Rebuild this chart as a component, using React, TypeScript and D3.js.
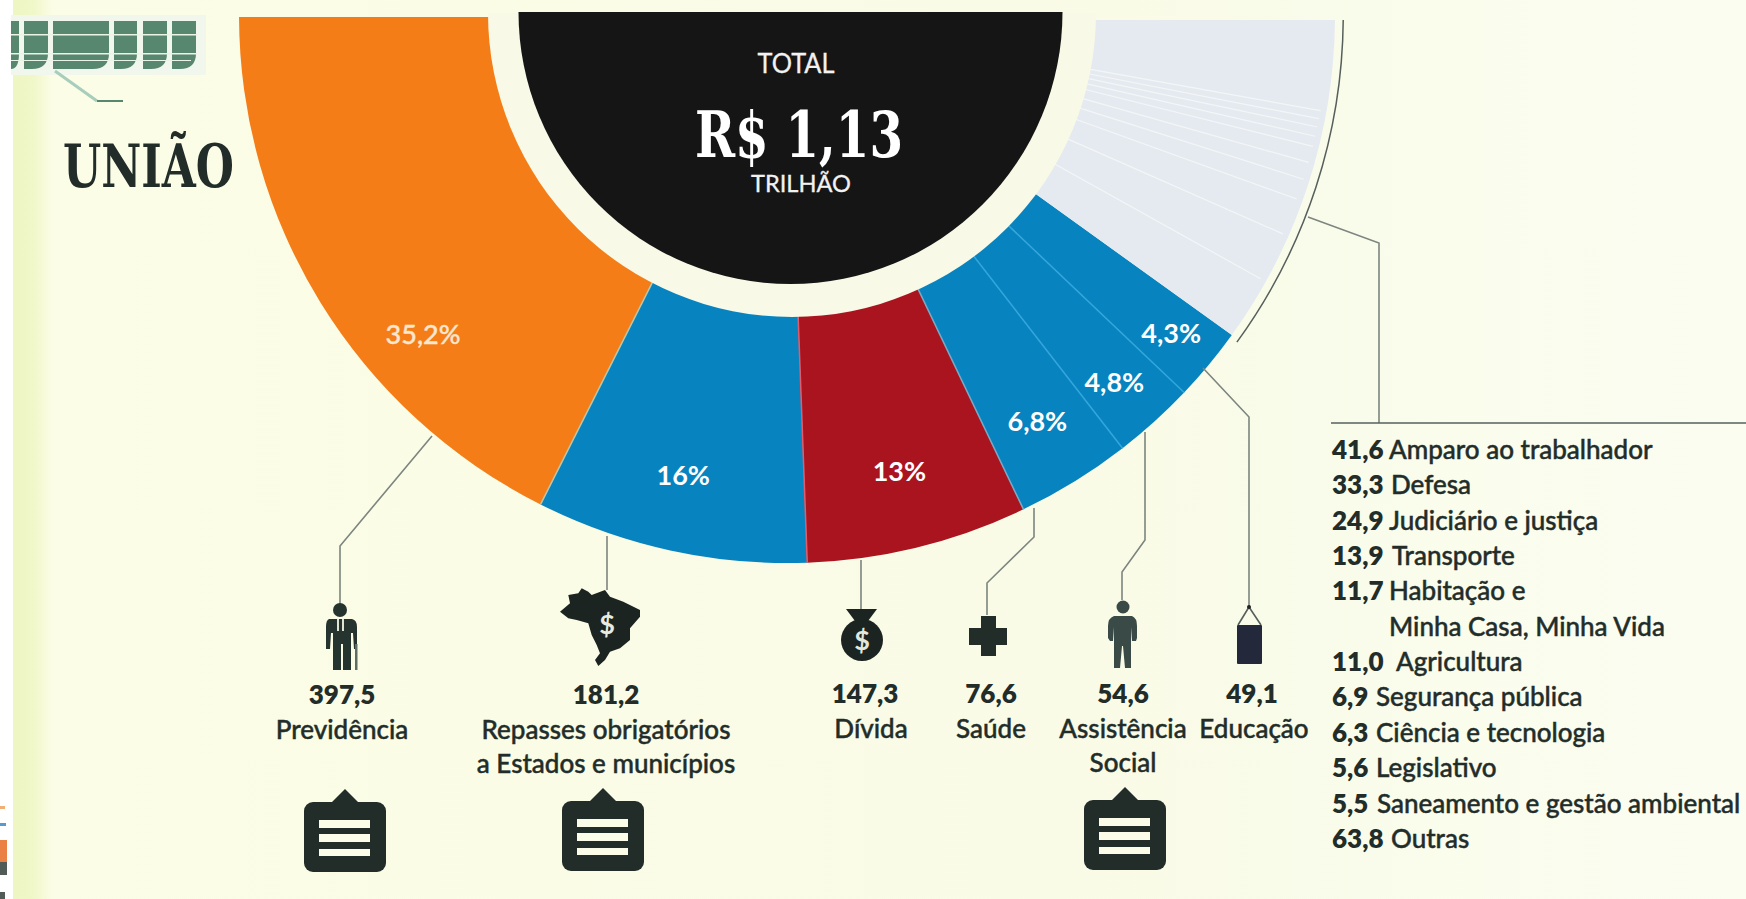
import React from 'react';
import * as d3 from 'd3';

// R$ bilhões
const categories = ['Previdência', 'Repasses', 'Dívida', 'Saúde', 'Assistência Social', 'Educação', 'Demais'];
const values = [397.5, 181.2, 147.3, 76.6, 54.6, 49.1, 224.5];
const percents = ['35,2%', '16%', '13%', '6,8%', '4,8%', '4,3%', ''];
const sliceColors = ['#f57d17', '#0784bf', '#a9141f', '#0784bf', '#0784bf', '#0784bf', '#e5eaf1'];

const valueLabels = ['397,5', '181,2', '147,3', '76,6', '54,6', '49,1'];
const nameLabels = [
  ['Previdência'],
  ['Repasses obrigatórios', 'a Estados e municípios'],
  ['Dívida'],
  ['Saúde'],
  ['Assistência', 'Social'],
  ['Educação'],
];

const otherValues = [41.6, 33.3, 24.9, 13.9, 11.7, 11.0, 6.9, 6.3, 5.6, 5.5, 63.8];
const otherValueLabels = ['41,6', '33,3', '24,9', '13,9', '11,7', '11,0', '6,9', '6,3', '5,6', '5,5', '63,8'];
const otherNames = [
  ['Amparo ao trabalhador'],
  ['Defesa'],
  ['Judiciário e justiça'],
  ['Transporte'],
  ['Habitação e', 'Minha Casa, Minha Vida'],
  ['Agricultura'],
  ['Segurança pública'],
  ['Ciência e tecnologia'],
  ['Legislativo'],
  ['Saneamento e gestão ambiental'],
  ['Outras'],
];

// layout
const W = 1746;
const H = 899;
const cx = 787;
const cy = 15;
const outerR = 548;
const labelRadius = [484, 472, 470, 477, 492, 499];
const labelShift = [9.6, -0.4, 0, 0, -0.4, 0]; // graus
const valueCenterX = [342, 606, 865, 991, 1123, 1252];
const nameCenterX = [342, 606, 871, 991, 1123, 1254];
const valueBaseline = [704, 704, 703, 703, 703, 703];
const otherValueX = 1332;
const otherNameX = [1389, 1391, 1389, 1392, 1389, 1396, 1376, 1376, 1376, 1377, 1391];
const font = 'Lato, "Noto Sans", sans-serif';
const slab = '"DejaVu Serif Condensed", "DejaVu Serif", serif';
const ink = '#222d2a';

const leaders = [
  [[432, 436], [340, 546], [340, 604]],
  [[607, 536], [607, 590]],
  [[861, 560], [861, 610]],
  [[1034, 508], [1034, 537], [987, 583], [987, 615]],
  [[1145, 432], [1145, 540], [1122, 572], [1122, 600]],
  [[1203, 368], [1249, 417], [1249, 607]],
  [[1308, 217], [1379, 243], [1379, 423]],
];
const noteIcons = [[345, 789], [603, 788], [1125, 787]];

const pieGen = d3
  .pie<number>()
  .sort(null)
  .startAngle((3 * Math.PI) / 2)
  .endAngle(Math.PI / 2);

const arcGen = d3.arc<any>().innerRadius(240).outerRadius(outerR);
const slices = pieGen(values);
const otherSlice = slices[slices.length - 1];
const otherPie = d3
  .pie<number>()
  .sort(null)
  .startAngle(otherSlice.startAngle)
  .endAngle(otherSlice.endAngle)(otherValues);

const line = d3.line();
const halfDisc = (r: number) =>
  d3.arc<any>().innerRadius(0).outerRadius(r)({
    startAngle: Math.PI / 2,
    endAngle: (3 * Math.PI) / 2,
  }) as string;

const NoteIcon = ({ x, y }: { x: number; y: number }) => (
  <g transform={`translate(${x},${y})`} fill={ink}>
    <path d="M-13,13L0,0L13,13Z" />
    <rect x={-41} y={13} width={82} height={70} rx={9} />
    <g fill="#fbfde8">
      <rect x={-26} y={31} width={51} height={8} />
      <rect x={-26} y={45} width={51} height={8} />
      <rect x={-26} y={60} width={51} height={7} />
    </g>
  </g>
);

const Icons = () => (
  <g>
    {/* idoso */}
    <g fill="#26342f">
      <circle cx={340} cy={610} r={7} />
      <path d="M329,619h23q5,1 5,8v22h-3l-1,-16h-2v37h-8v-26h-2v26h-8v-37h-2l-1,16h-4v-22q0,-7 3,-8Z" />
      <rect x={355} y={644} width={2.5} height={26} fill="#5d6d65" />
      <path d="M337,619h2v12h-2zM342,619h2v12h-2z" fill="#dfe6d6" />
    </g>
    {/* mapa */}
    <path
      fill="#1b2421"
      d="M560,611.7L570,603.3L568.3,595L578.3,593.3L581.7,588.3L588.3,591.7L591.7,595L605,590L610,596.7L623.3,601.7L640,610L640,616.7L630,628.3L630,640L620,648.3L610,651.7L605,660L598.3,666L595,660L600,653.3L596.7,645L591.7,635L588.3,623.3L576.7,620L568.3,618.3Z"
    />
    <text x={607} y={634} textAnchor="middle" fontFamily={font} fontWeight={700} fontSize={27} fill="#e8ece0">$</text>
    {/* divida */}
    <path fill="#1b2421" d="M846,609h31l-9,12h-13Z" />
    <circle cx={862} cy={640} r={21} fill="#1b2421" />
    <text x={862} y={650} textAnchor="middle" fontFamily={font} fontWeight={700} fontSize={27} fill="#e3e7dc">$</text>
    {/* saude */}
    <path fill="#222d2a" d="M981,616h15v12h11v17h-11v11h-15v-11h-12v-17h12Z" />
    {/* assistencia */}
    <g fill="#3a4a46">
      <circle cx={1123} cy={607} r={6.5} />
      <path d="M1114,616h18q5,2 5,10v12l-1,3h-4l-1,-14v41h-6l-2,-22h-1l-2,22h-6v-41l-1,14h-3l-2,-3v-12q0,-8 6,-10Z" />
    </g>
    {/* educacao */}
    <path d="M1249,607L1238,625M1249,607L1261,625" stroke="#55605c" strokeWidth={1.6} fill="none" />
    <circle cx={1249} cy={607} r={2} fill="#222" />
    <rect x={1237} y={625} width={25} height={39} rx={1} fill="#23283a" />
  </g>
);

const TopLeftMark = () => {
  const blocks = [[11, 8], [24, 24], [53, 56], [114, 23], [143, 24], [172, 24]];
  return (
    <g>
      <rect x={11} y={15} width={195} height={60} fill="#f1f7ec" />
      {blocks.map(([x, w], i) => (
        <path
          key={i}
          fill="#58876f"
          d={`M${x},21h${w}v${32}q0,16 -${Math.min(w, 16)},16h-${Math.max(0, w - 16)}Z`}
        />
      ))}
      <rect x={11} y={34} width={186} height={1.5} fill="#eaf4e6" />
      <rect x={11} y={53} width={186} height={1.5} fill="#eaf4e6" />
      <rect x={11} y={60} width={180} height={1} fill="#eaf4e6" />
      <path d="M55,71L97,101" stroke="#a9cdbc" strokeWidth={3} fill="none" />
      <path d="M97,101H123" stroke="#58876f" strokeWidth={2} fill="none" />
    </g>
  );
};

const App = () => {
  return (
    <svg
      width={W}
      height={H}
      viewBox={`0 0 ${W} ${H}`}
      style={{ position: 'absolute', left: 0, top: 0, display: 'block', fontFamily: font }}
    >
      <defs>
        <linearGradient id="paper" x1="0" x2="1" y1="0" y2="0">
          <stop offset="0" stopColor="#ffffff" />
          <stop offset="0.0072" stopColor="#ffffff" />
          <stop offset="0.0076" stopColor="#eef6c4" />
          <stop offset="0.019" stopColor="#f0f7c8" />
          <stop offset="0.03" stopColor="#fbfde6" />
          <stop offset="0.6" stopColor="#f9fbe6" />
          <stop offset="1" stopColor="#fbfdf1" />
        </linearGradient>
        <clipPath id="top17">
          <rect x={-cx} y={17 - cy} width={W} height={H} />
        </clipPath>
        <clipPath id="top20">
          <rect x={-cx} y={20 - cy} width={W} height={H} />
        </clipPath>
      </defs>
      <rect width={W} height={H} fill="url(#paper)" />
      <rect x={0} y={806} width={5} height={3} fill="#ee9b50" opacity={0.8} />
      <rect x={0} y={823} width={6} height={3} fill="#2f7fc4" opacity={0.8} />
      <rect x={0} y={840} width={7} height={22} fill="#e86a25" opacity={0.85} />
      <rect x={0} y={862} width={7} height={13} fill="#33403c" opacity={0.85} />
      <rect x={0} y={892} width={5} height={7} fill="#33403c" opacity={0.85} />
      <TopLeftMark />

      <text x={63} y={187} fontFamily={slab} fontWeight={700} fontSize={60} fill={ink} textLength={171} lengthAdjust="spacingAndGlyphs">
        UNIÃO
      </text>

      <g transform={`translate(${cx},${cy})`}>
        {slices.map((s, i) => (
          <path
            key={categories[i]}
            d={arcGen(s) as string}
            fill={sliceColors[i]}
            clipPath={i === slices.length - 1 ? 'url(#top20)' : 'url(#top17)'}
          />
        ))}
        {otherPie.slice(0, -1).map((s, i) => {
          const [x0, y0] = d3.pointRadial(s.endAngle, 290);
          const [x1, y1] = d3.pointRadial(s.endAngle, outerR - 6);
          return <line key={i} x1={x0} y1={y0} x2={x1} y2={y1} stroke="#f3f6f7" strokeWidth={1.2} />;
        })}
        {slices.slice(0, -2).map((s, i) => {
          const [x0, y0] = d3.pointRadial(s.endAngle, 280);
          const [x1, y1] = d3.pointRadial(s.endAngle, outerR);
          const stroke = i === 0 ? '#b9c7a8' : i === 1 ? '#e25d6c' : i === 2 ? '#7aa9c4' : '#35a6dc';
          return <line key={i} x1={x0} y1={y0} x2={x1} y2={y1} stroke={stroke} strokeWidth={1.5} />;
        })}
        <path
          d={d3.arc<any>().innerRadius(outerR + 7.5).outerRadius(outerR + 9)({
            startAngle: otherSlice.endAngle,
            endAngle: otherSlice.startAngle + 0.005,
          }) as string}
          fill="#55605c"
          clipPath="url(#top20)"
        />
      </g>

      {/* o circulo interno nao e concentrico com o anel */}
      <path d={halfDisc(304)} transform="translate(792,13)" fill="#f8f9e7" />
      <path d={halfDisc(272)} transform="translate(790.5,12)" fill="#151515" />

      <g transform={`translate(${cx},${cy})`}>
        {slices.slice(0, -1).map((s, i) => {
          const mid = (s.startAngle + s.endAngle) / 2 - (labelShift[i] * Math.PI) / 180;
          const [x, y] = d3.pointRadial(mid, labelRadius[i]);
          return (
            <text
              key={percents[i]}
              x={x}
              y={y}
              dy="0.36em"
              textAnchor="middle"
              fontSize={27}
              fontWeight={i === 0 ? 500 : 700}
              stroke={i === 0 ? '#fbe6cf' : 'none'}
              strokeWidth={0.4}
              fill={i === 0 ? '#fbe6cf' : '#ffffff'}
            >
              {percents[i]}
            </text>
          );
        })}
      </g>

      <text x={796} y={73} textAnchor="middle" fontSize={27} fill="#f2f2f2" stroke="#f2f2f2" strokeWidth={0.3} textLength={77} lengthAdjust="spacingAndGlyphs">TOTAL</text>
      <text x={799} y={157} textAnchor="middle" fontFamily={slab} fontSize={64} fontWeight={700} fill="#ffffff" textLength={208} lengthAdjust="spacingAndGlyphs">R$ 1,13</text>
      <text x={801} y={192} textAnchor="middle" fontSize={24} fill="#f2f2f2" stroke="#f2f2f2" strokeWidth={0.3} textLength={100} lengthAdjust="spacingAndGlyphs">TRILHÃO</text>

      {leaders.map((pts, i) => (
        <path key={i} d={line(pts as [number, number][]) as string} fill="none" stroke="#7c857f" strokeWidth={1.6} />
      ))}
      <line x1={1331} y1={423} x2={W} y2={423} stroke="#55605c" strokeWidth={1.6} />

      <Icons />
      {noteIcons.map(([x, y], i) => (
        <NoteIcon key={i} x={x} y={y} />
      ))}

      {valueLabels.map((v, i) => (
        <g key={v} textAnchor="middle" fill={ink} fontSize={26}>
          <text x={valueCenterX[i]} y={valueBaseline[i]} fontWeight={800}>{v}</text>
          {nameLabels[i].map((n, j) => (
            <text
              key={n}
              x={nameCenterX[i]}
              y={valueBaseline[i] + 35 + j * 34}
              fontWeight={500}
              stroke={ink}
              strokeWidth={0.45}
            >
              {n}
            </text>
          ))}
        </g>
      ))}

      {(() => {
        let row = 0;
        return otherValues.map((_, i) => {
          const y = 459 + row * 35.35;
          const names = otherNames[i];
          row += names.length;
          return (
            <g key={otherValueLabels[i]} fill={ink} fontSize={26}>
              <text x={otherValueX} y={y} fontWeight={800}>{otherValueLabels[i]}</text>
              {names.map((n, j) => (
                <text key={n} x={otherNameX[i]} y={y + j * 35.35} fontWeight={500} stroke={ink} strokeWidth={0.45}>
                  {n}
                </text>
              ))}
            </g>
          );
        });
      })()}
    </svg>
  );
};

export default App;
